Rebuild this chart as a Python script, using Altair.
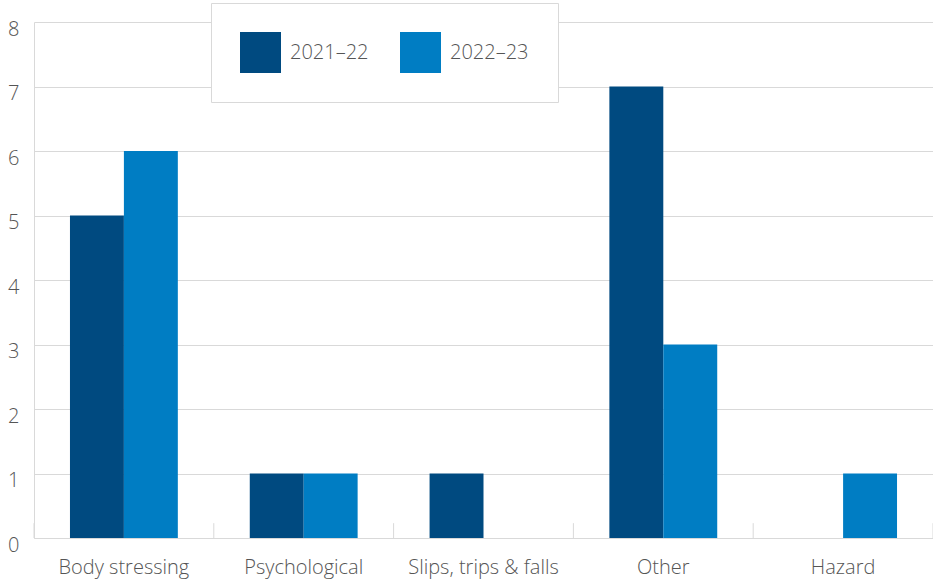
import altair as alt
import pandas as pd

categories = ["Body stressing", "Psychological", "Slips, trips & falls", "Other", "Hazard"]
series = ["2021–22", "2022–23"]
v2122 = [5, 1, 1, 7, 0]
v2223 = [6, 1, 0, 3, 1]
colors = ["#004A80", "#007DC3"]

rows = []
for c, a, b in zip(categories, v2122, v2223):
    rows.append({"cat": c, "year": series[0], "value": a})
    rows.append({"cat": c, "year": series[1], "value": b})
df = pd.DataFrame(rows)

tick_df = pd.DataFrame({"cat": categories, "y0": [0] * 5, "y1": [0.23] * 5})
tick_end = pd.DataFrame({"cat": [categories[-1]], "y0": [0], "y1": [0.23]})

FONT = "Open Sans"
FW = 300
TXT = "#555555"
GRID = "#d9d9d9"

xscale = alt.Scale(domain=categories, paddingInner=0, paddingOuter=0)
yscale = alt.Scale(domain=[0, 8], nice=False)

bars = alt.Chart(df).mark_bar().encode(
    x=alt.X("cat:N", scale=xscale, sort=categories,
            axis=alt.Axis(title=None, labelAngle=0, ticks=False, domain=True,
                          domainColor=GRID, labelFontSize=20, labelColor=TXT,
                          labelFont=FONT, labelFontWeight=FW, labelPadding=19)),
    xOffset=alt.XOffset("year:N", sort=series, scale=alt.Scale(paddingOuter=0.667, paddingInner=0)),
    y=alt.Y("value:Q", scale=yscale,
            axis=alt.Axis(title=None, values=list(range(0, 9)), format="d", ticks=False, domain=True,
                          domainColor=GRID, grid=True, gridColor=GRID,
                          labelFontSize=20, labelColor=TXT, labelFont=FONT,
                          labelFontWeight=FW, labelPadding=15, labelOffset=7)),
    color=alt.Color("year:N", sort=series,
                    scale=alt.Scale(domain=series, range=colors),
                    legend=alt.Legend(title=None, orient="none", legendX=177, legendY=-19,
                                      direction="horizontal", padding=29,
                                      strokeColor=GRID, fillColor="white",
                                      columnPadding=31, labelOffset=9,
                                      symbolType="square", symbolSize=1681,
                                      symbolStrokeWidth=0, labelFontSize=20,
                                      labelColor=TXT, labelFont=FONT,
                                      labelFontWeight=FW, cornerRadius=0)),
)

ticks = alt.Chart(tick_df).mark_rule(color=GRID, strokeWidth=1).encode(
    x=alt.X("cat:N", scale=xscale, sort=categories, bandPosition=0),
    y=alt.Y("y0:Q", scale=yscale),
    y2="y1:Q",
)
ticks_end = alt.Chart(tick_end).mark_rule(color=GRID, strokeWidth=1).encode(
    x=alt.X("cat:N", scale=xscale, sort=categories, bandPosition=1),
    y=alt.Y("y0:Q", scale=yscale),
    y2="y1:Q",
)

chart = alt.layer(bars, ticks, ticks_end).properties(
    width=899, height=516,
    autosize=alt.AutoSizeParams(type="none"),
    padding={"left": 34, "top": 22, "right": 0, "bottom": 41},
).configure_view(stroke=None)

chart.save("out.html", embed_options={"renderer": "svg", "actions": False})
